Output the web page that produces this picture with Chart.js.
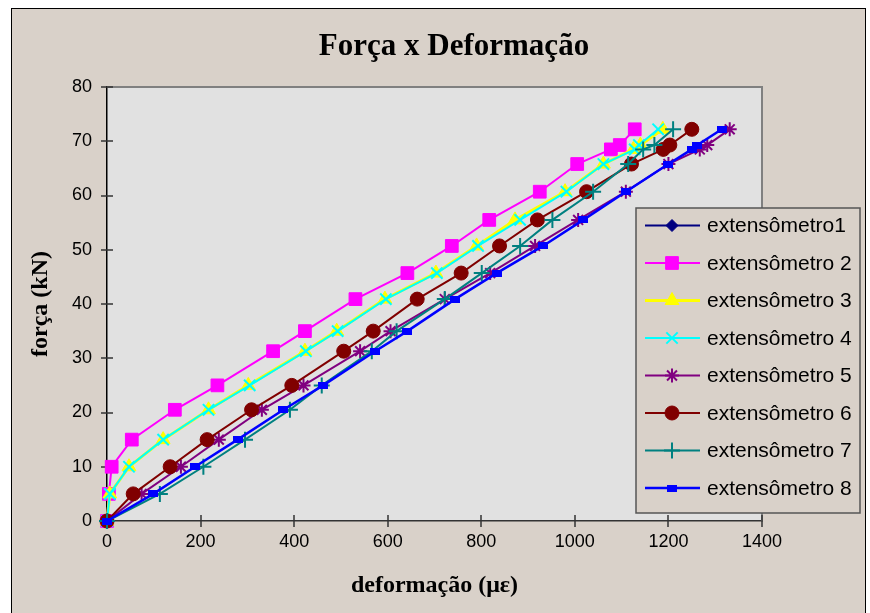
<!DOCTYPE html>
<html>
<head>
<meta charset="utf-8">
<script src="https://cdn.jsdelivr.net/npm/chart.js@4.4.1/dist/chart.umd.min.js"></script>
<style>
html, body { margin: 0; padding: 0; background: #fff; }
#caixa { width: 870px; height: 613px; }
</style>
</head>
<body>
<div id="caixa"><canvas id="grafico" width="870" height="613"></canvas></div>
<script>
// niveis de carga (kN), comuns a todos os extensometros
var forca = [0, 5, 10, 15, 20.5, 25, 31.3, 35, 40.9, 45.7, 50.7, 55.5, 60.7, 65.8, 68.5, 69.3, 72.2];

// deformacoes lidas (micro-strain)
var ext1 = [];
var ext2 = [0, 4, 10, 53, 145, 236, 355, 423, 531, 642, 737, 817, 925, 1005, 1077, 1096, 1128];
var ext3 = [0, 6, 47, 120, 217, 302, 423, 491, 594, 703, 790, 872, 979, 1061, 1125, 1140, 1188];
var ext4 = [0, 6, 47, 120, 217, 305, 425, 493, 596, 705, 793, 883, 982, 1061, 1128, 1137, 1178];
var ext5 = [0, 74, 158, 239, 331, 420, 541, 606, 722, 819, 915, 1007, 1109, 1200, 1267, 1283, 1331];
var ext6 = [0, 56, 135, 214, 309, 395, 506, 569, 663, 757, 839, 920, 1025, 1121, 1189, 1203, 1250];
var ext7 = [0, 113, 206, 295, 391, 459, 566, 619, 722, 801, 883, 952, 1039, 1114, 1146, 1170, 1210];
var ext8 = [0, 99, 188, 279, 377, 462, 573, 642, 744, 833, 932, 1018, 1109, 1200, 1250, 1262, 1314];

var nomes = ["extensômetro1", "extensômetro 2", "extensômetro 3", "extensômetro 4",
             "extensômetro 5", "extensômetro 6", "extensômetro 7", "extensômetro 8"];
var ticksX = [0, 200, 400, 600, 800, 1000, 1200, 1400];
var ticksY = [0, 10, 20, 30, 40, 50, 60, 70, 80];

function pontos(xs) {
  return xs.map(function(v, i) { return { x: v, y: forca[i] }; });
}

// marcador retangular achatado do extensometro 8
function marcadorRet(cor) {
  var c = document.createElement("canvas");
  c.width = 10; c.height = 7;
  var g = c.getContext("2d");
  g.fillStyle = cor;
  g.fillRect(0, 0, 10, 7);
  return c;
}

function serie(i, xs, cor, estilo, raio, larg, lp) {
  return {
    label: nomes[i],
    data: pontos(xs),
    borderColor: cor,
    backgroundColor: cor,
    borderWidth: larg,
    pointStyle: estilo,
    pointRadius: raio,
    pointBorderWidth: lp,
    pointBorderColor: cor,
    pointBackgroundColor: cor,
    showLine: true,
    tension: 0,
    clip: false,
    order: 8 - i
  };
}

var fundo = "#d9d1c9";

var desenho = {
  id: "desenho",
  beforeDraw: function(chart) {
    var ctx = chart.ctx, a = chart.chartArea;
    ctx.save();
    ctx.fillStyle = "#fff";
    ctx.fillRect(0, 0, chart.width, chart.height);
    ctx.fillStyle = fundo;
    ctx.fillRect(11, 8, 855, 610);
    ctx.strokeStyle = "#000";
    ctx.lineWidth = 1;
    ctx.strokeRect(11.5, 8.5, 854, 610);
    ctx.fillStyle = "#e1e1e1";
    ctx.fillRect(a.left, a.top, a.right - a.left, a.bottom - a.top);
    ctx.restore();
  },
  beforeDatasetsDraw: function(chart) {
    var ctx = chart.ctx, a = chart.chartArea;
    var sx = chart.scales.x, sy = chart.scales.y;
    ctx.save();
    ctx.strokeStyle = "#808080";
    ctx.lineWidth = 2;
    ctx.beginPath();
    ctx.moveTo(a.left, a.top);
    ctx.lineTo(a.right, a.top);
    ctx.lineTo(a.right, a.bottom);
    ctx.stroke();
    ctx.strokeStyle = "#333";
    ctx.lineWidth = 1.5;
    ctx.beginPath();
    ticksY.forEach(function(v) {
      var p = Math.round(sy.getPixelForValue(v));
      ctx.moveTo(a.left - 6, p);
      ctx.lineTo(a.left + 6, p);
    });
    ticksX.forEach(function(v) {
      var p = Math.round(sx.getPixelForValue(v));
      ctx.moveTo(p, a.bottom - 6);
      ctx.lineTo(p, a.bottom + 6);
    });
    ctx.stroke();
    ctx.restore();
  },
  afterDraw: function(chart) {
    var ctx = chart.ctx;
    ctx.save();
    // titulo
    ctx.fillStyle = "#000";
    ctx.font = "bold 31px 'Liberation Serif', 'Times New Roman', serif";
    ctx.textAlign = "center";
    ctx.textBaseline = "middle";
    ctx.fillText("Força x Deformação", 454, 47);

    // legenda
    var bx = 636, by = 208, bw = 224, bh = 305;
    ctx.fillStyle = fundo;
    ctx.fillRect(bx, by, bw, bh);
    ctx.strokeStyle = "#555";
    ctx.lineWidth = 1.5;
    ctx.strokeRect(bx, by, bw, bh);
    ctx.font = "21px 'Liberation Sans', Arial, sans-serif";
    ctx.textAlign = "left";
    chart.data.datasets.forEach(function(ds, i) {
      var yy = 225.5 + i * 37.5;
      ctx.strokeStyle = ds.borderColor;
      ctx.lineWidth = ds.borderWidth;
      ctx.beginPath();
      ctx.moveTo(645, yy);
      ctx.lineTo(700, yy);
      ctx.stroke();
      ctx.fillStyle = ds.pointBackgroundColor;
      ctx.strokeStyle = ds.pointBorderColor;
      ctx.lineWidth = ds.pointBorderWidth;
      Chart.helpers.drawPoint(ctx, {
        pointStyle: ds.pointStyle,
        radius: ds.pointRadius,
        borderWidth: ds.pointBorderWidth,
        rotation: 0
      }, 672, yy);
      ctx.fillStyle = "#000";
      ctx.fillText(ds.label, 707, yy + 1);
    });
    ctx.restore();
  }
};

var conjuntos = [
  serie(0, ext1, "#000080", "rectRot", 6, 2, 1),
  serie(1, ext2, "#ff00ff", "rect", 9, 2, 1),
  serie(2, ext3, "#ffff00", "triangle", 8, 3, 1),
  serie(3, ext4, "#00ffff", "crossRot", 8, 2, 2),
  serie(4, ext5, "#800080", "star", 7, 2, 2),
  serie(5, ext6, "#800000", "circle", 7, 2, 1),
  serie(6, ext7, "#008080", "cross", 8, 2, 2),
  serie(7, ext8, "#0000ff", marcadorRet("#0000ff"), 5, 2.5, 1)
];

var fonteTick = { family: "'Liberation Sans', Arial, sans-serif", size: 18 };
var fonteEixo = { family: "'Liberation Serif', 'Times New Roman', serif", size: 24, weight: "bold" };

function semSeparador(v) { return String(v); }

new Chart(document.getElementById("grafico").getContext("2d"), {
  type: "scatter",
  data: { datasets: conjuntos },
  options: {
    responsive: false,
    animation: false,
    events: [],
    layout: { padding: { top: 87, right: 108, left: 0, bottom: 0 } },
    plugins: {
      legend: { display: false },
      tooltip: { enabled: false },
      title: { display: false }
    },
    scales: {
      x: {
        type: "linear",
        min: 0, max: 1400,
        afterFit: function(s) { s.height = 92; },
        afterBuildTicks: function(s) { s.ticks = ticksX.map(function(v) { return { value: v }; }); },
        grid: { display: false, drawTicks: false },
        border: { display: true, color: "#333", width: 1.5 },
        ticks: { color: "#000", font: fonteTick, padding: 10, autoSkip: false, maxRotation: 0, callback: semSeparador },
        title: { display: true, text: "deformação (με)", color: "#000", font: fonteEixo, padding: { bottom: 13 } }
      },
      y: {
        type: "linear",
        min: 0, max: 80,
        afterFit: function(s) { s.width = 107; },
        afterBuildTicks: function(s) { s.ticks = ticksY.map(function(v) { return { value: v }; }); },
        grid: { display: false, drawTicks: false },
        border: { display: true, color: "#000", width: 1.5 },
        ticks: { color: "#000", font: fonteTick, padding: 15, autoSkip: false, callback: semSeparador },
        title: { display: true, text: "força (kN)", color: "#000", font: fonteEixo, padding: { top: 26 } }
      }
    }
  },
  plugins: [desenho]
});
</script>
</body>
</html>
